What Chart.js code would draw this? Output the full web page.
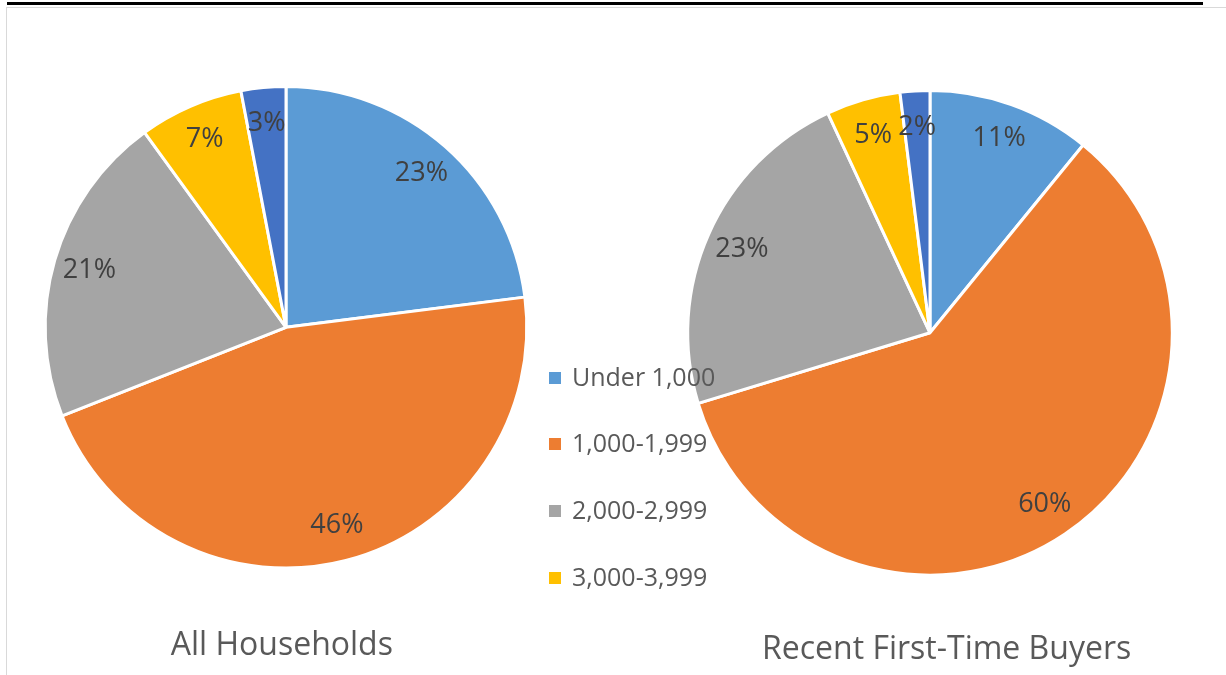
<!DOCTYPE html>
<html>
<head>
<meta charset="utf-8">
<script src="https://cdn.jsdelivr.net/npm/chart.js@4"></script>
<style>
  html, body { margin: 0; padding: 0; background: #fff; overflow: hidden; }
  body { width: 1226px; height: 675px; position: relative; font-family: "Open Sans", sans-serif; }
  #topline { position: absolute; left: 7px; top: 2px; width: 1196px; height: 3px; background: #000; }
  #frame { position: absolute; left: 6px; top: 7px; width: 1240px; height: 700px; border: 1px solid #d9d9d9; }
  .box { position: absolute; }
  #legend { position: absolute; left: 549px; top: 360px; }
  .item { position: absolute; left: 0; white-space: nowrap; color: #595959; font-size: 25px; line-height: 32px; }
  .item span { display: inline-block; width: 12px; height: 12px; margin-right: 11px; vertical-align: 2px; }
</style>
</head>
<body>
<div id="topline"></div>
<div id="frame"></div>
<div class="box" style="left:0px; top:80px; width:572px; height:585px;"><canvas id="pieAll"></canvas></div>
<div class="box" style="left:650px; top:84px; width:560px; height:585px;"><canvas id="pieFirst"></canvas></div>
<div id="legend"></div>
<script>
// square footage categories
const categories = ['Under 1,000', '1,000-1,999', '2,000-2,999', '3,000-3,999', '4,000 or more'];
const allHouseholds = [23, 46, 21, 7, 3];
const firstTimeBuyers = [11, 60, 23, 5, 2];
const colors = ['#5B9BD5', '#ED7D31', '#A5A5A5', '#FFC000', '#4472C4'];
const shownInLegend = 4; // last item is cut off in the original

// percent labels inside the slices
const sliceLabels = {
  id: 'sliceLabels',
  afterDatasetsDraw(chart) {
    const ctx = chart.ctx;
    const meta = chart.getDatasetMeta(0);
    const values = chart.data.datasets[0].data;
    ctx.save();
    ctx.fillStyle = '#404040';
    ctx.font = '27px "Open Sans", sans-serif';
    ctx.textAlign = 'center';
    ctx.textBaseline = 'middle';
    meta.data.forEach((arc, i) => {
      const p = arc.getProps(['x', 'y', 'startAngle', 'endAngle', 'outerRadius'], true);
      const mid = (p.startAngle + p.endAngle) / 2;
      const r = p.outerRadius * 0.85;
      ctx.fillText(values[i] + '%', p.x + Math.cos(mid) * r, p.y + Math.sin(mid) * r);
    });
    ctx.restore();
  }
};

function makePie(id, values, title, padTop) {
  return new Chart(document.getElementById(id), {
    type: 'pie',
    data: {
      labels: categories,
      datasets: [{
        data: values,
        backgroundColor: colors,
        borderColor: '#ffffff',
        borderWidth: 3
      }]
    },
    options: {
      responsive: true,
      maintainAspectRatio: false,
      animation: false,
      layout: { padding: { top: 5, bottom: 0, left: 0, right: 0 } },
      plugins: {
        legend: { display: false },
        tooltip: { enabled: false },
        title: {
          display: true,
          text: title,
          position: 'bottom',
          color: '#595959',
          font: { family: '"Open Sans", sans-serif', size: 32, weight: 'normal' },
          padding: { top: padTop, bottom: 0 }
        }
      }
    },
    plugins: [sliceLabels]
  });
}

makePie('pieAll', allHouseholds, 'All Households ', 57);
// leading spaces nudge the centred title to the right like the original
makePie('pieFirst', firstTimeBuyers, '    Recent First-Time Buyers', 54);

// legend between the two pies
const legend = document.getElementById('legend');
const rowY = [0, 66, 133, 200];
for (let i = 0; i < shownInLegend; i++) {
  const el = document.createElement('div');
  el.className = 'item';
  el.style.top = rowY[i] + 'px';
  el.innerHTML = '<span style="background:' + colors[i] + '"></span>' + categories[i];
  legend.appendChild(el);
}
</script>
</body>
</html>
